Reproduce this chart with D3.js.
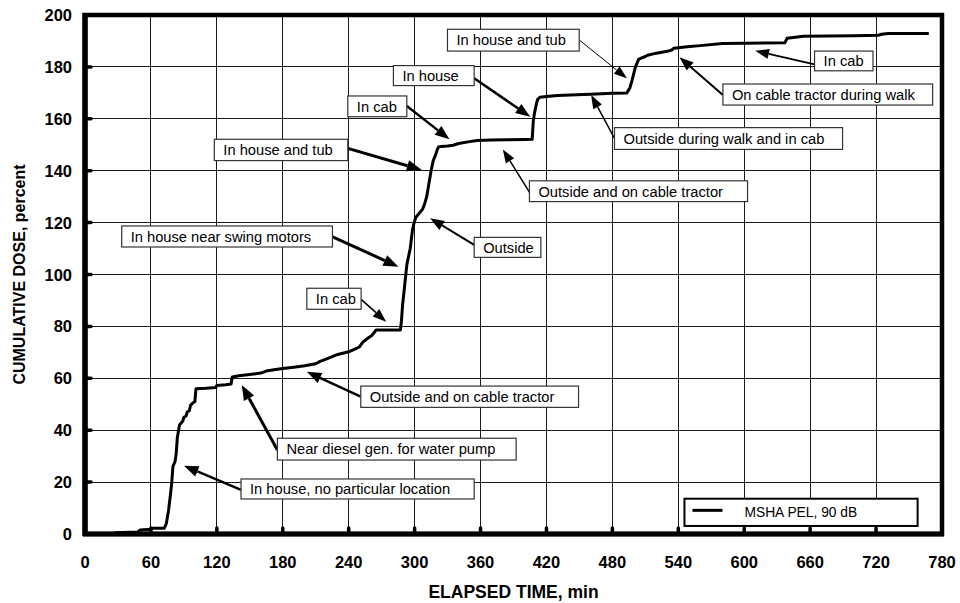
<!DOCTYPE html>
<html>
<head>
<meta charset="utf-8">
<script src="https://cdn.jsdelivr.net/npm/d3@7"></script>
<style>
  html, body { margin: 0; padding: 0; background: #fff; }
  svg { display: block; font-family: "Liberation Sans", Arial, sans-serif; }
</style>
</head>
<body>
<svg id="chart" width="960" height="603"></svg>
<script>
// ---------------- DATA ----------------
const xTicks = [0, 60, 120, 180, 240, 300, 360, 420, 480, 540, 600, 660, 720, 780];
const yTicks = [0, 20, 40, 60, 80, 100, 120, 140, 160, 180, 200];

const elapsedMin = [27, 48, 50, 60, 61, 72, 74, 76, 78, 79, 80, 82, 83, 84, 86, 89, 90, 92, 93, 95, 96, 98, 100, 101,
  110, 119, 120, 128, 133, 134, 140, 150, 160, 165, 172, 180, 190, 200, 210, 214, 220, 230, 240, 247, 250, 253, 257,
  261, 265, 287, 288, 289, 290, 292, 293, 295, 296, 298, 299, 301, 304, 307, 309, 311, 313, 315, 317, 319, 321, 322,
  330, 335, 340, 350, 357, 370, 384, 400, 407, 408, 409, 411, 412, 414, 420, 430, 460, 480, 493, 496, 498, 501, 504,
  510, 512, 520, 530, 534, 536, 548, 560, 580, 600, 637, 639, 654, 700, 722, 725, 731, 768];
const cumulativeDose = [0.5, 0.8, 1.5, 1.8, 2.2, 2.2, 4, 9, 16, 20, 26, 28, 31, 37, 42, 43.5, 45, 45.5, 47, 47.5, 49.5, 50.5, 51, 56,
  56.2, 56.5, 57.2, 57.5, 57.8, 60.5, 61, 61.5, 62, 62.8, 63.3, 63.8, 64.3, 64.8, 65.6, 66.5, 67.5, 69.2, 70.2, 71.5, 72.2, 74, 75.3,
  76.5, 78.6, 78.6, 82, 88, 92, 100, 104, 108, 110, 117, 119, 122, 123.5, 125, 127, 130, 135, 140, 144, 146, 148.5, 149.2,
  149.5, 149.8, 150.5, 151.2, 151.6, 151.8, 151.9, 152, 152.1, 159, 162, 166, 167.5, 168.3, 168.6, 169, 169.5, 169.8, 169.9, 172, 175, 180, 183,
  184, 184.5, 185.3, 186, 186.5, 187.2, 187.8, 188.2, 189, 189.1, 189.3, 191, 191.8, 192, 192.2, 192.6, 192.9, 192.9];

const seriesName = "MSHA PEL, 90 dB";
const xTitle = "ELAPSED TIME, min";
const yTitle = "CUMULATIVE DOSE, percent";

// Annotation labels with box extents and arrow (in data units: minutes, percent)
const annLabels = ["In house and tub", "In cab", "In house", "In house and tub", "In cab",
  "On cable tractor during walk", "Outside during walk and in cab", "Outside and on cable tractor",
  "Outside", "In house near swing motors", "In cab", "Outside and on cable tractor",
  "Near diesel gen. for water pump", "In house, no particular location"];
const annBoxT = [[117.7, 239.2], [239.2, 292.9], [280.7, 354.2], [329.9, 449.8], [664.0, 717.2],
  [580.6, 771.5], [481.9, 689.5], [404.5, 603.0], [354.2, 414.9], [33.4, 225.2], [201.9, 251.3],
  [251.0, 449.2], [175.1, 392.4], [142.0, 354.2]];
const annBoxV = [[152.1, 143.9], [168.8, 160.8], [180.5, 172.8], [194.5, 186.1], [186.1, 178.5],
  [173.4, 165.3], [156.6, 148.2], [136.1, 128.1], [114.3, 106.6], [118.7, 110.6], [94.7, 86.6],
  [57.0, 48.8], [36.9, 28.5], [21.2, 13.5]];
const annFrom = [[239.2, 148.6], [292.9, 164.9], [354.2, 175.6], [449.8, 190.4], [664.0, 181.0],
  [580.6, 169.2], [481.9, 152.5], [405.2, 131.3], [354.2, 111.4], [224.9, 114.6], [251.3, 90.4],
  [251.0, 52.9], [175.1, 32.4], [142.0, 17.0]];
const annTip = [[306.6, 140.3], [331.7, 152.1], [405.2, 160.8], [493.2, 175.6], [610.0, 186.2],
  [541.1, 183.7], [460.7, 169.2], [380.3, 148.2], [314.1, 121.7], [285.3, 103.0], [274.1, 81.8],
  [201.9, 62.5], [142.7, 57.4], [90.1, 26.3]];
const annWeight = [3, 2.5, 2.5, 1, 1.8, 2, 1.5, 1.5, 2, 3, 1.6, 2.5, 3, 2.5];

const legendT = [545.6, 757.8];
const legendV = [13.6, 3.1];

// ---------------- LAYOUT ----------------
const svg = d3.select("#chart");
const m = { left: 85, top: 15, width: 857, height: 519 };

const x = d3.scaleLinear().domain([0, 780]).range([m.left, m.left + m.width]);
const y = d3.scaleLinear().domain([0, 200]).range([m.top + m.height, m.top]);

// background
svg.append("rect").attr("width", 960).attr("height", 603).attr("fill", "#fff");

// grid
const grid = svg.append("g");
grid.selectAll("line.v").data(xTicks.slice(1, -1)).enter().append("line")
  .attr("x1", d => x(d)).attr("x2", d => x(d))
  .attr("y1", y(0)).attr("y2", y(200))
  .attr("stroke", "#1a1a1a").attr("stroke-width", 1).attr("shape-rendering", "crispEdges");
grid.selectAll("line.h").data(yTicks.slice(1, -1)).enter().append("line")
  .attr("x1", x(0)).attr("x2", x(780))
  .attr("y1", d => y(d)).attr("y2", d => y(d))
  .attr("stroke", "#1a1a1a").attr("stroke-width", 1).attr("shape-rendering", "crispEdges");

// inner tick bumps
const ticks = svg.append("g");
ticks.selectAll("line.xt").data(xTicks.slice(1, -1)).enter().append("line")
  .attr("x1", d => x(d)).attr("x2", d => x(d))
  .attr("y1", y(0)).attr("y2", y(0) - 6)
  .attr("stroke", "#000").attr("stroke-width", 3.5).attr("stroke-linecap", "round");
ticks.selectAll("line.yt").data(yTicks.slice(1, -1)).enter().append("line")
  .attr("x1", x(0)).attr("x2", x(0) + 6)
  .attr("y1", d => y(d)).attr("y2", d => y(d))
  .attr("stroke", "#000").attr("stroke-width", 3.5).attr("stroke-linecap", "round");

// data line
const pts = elapsedMin.map((t, i) => [t, cumulativeDose[i]]);
svg.append("path").datum(pts)
  .attr("fill", "none").attr("stroke", "#000").attr("stroke-width", 3)
  .attr("stroke-linejoin", "round")
  .attr("d", d3.line().x(d => x(d[0])).y(d => y(d[1])));

// frame
svg.append("rect")
  .attr("x", x(0)).attr("y", y(200)).attr("width", x(780) - x(0)).attr("height", y(0) - y(200))
  .attr("fill", "none").attr("stroke", "#000").attr("stroke-width", 4.5);
svg.append("line").attr("x1", x(0)).attr("x2", x(0)).attr("y1", y(200) - 2).attr("y2", y(0) + 2)
  .attr("stroke", "#000").attr("stroke-width", 5.5);
svg.append("line").attr("x1", x(0) - 2).attr("x2", x(780) + 2).attr("y1", y(0)).attr("y2", y(0))
  .attr("stroke", "#000").attr("stroke-width", 5);

// axis labels
svg.append("g").selectAll("text").data(xTicks).enter().append("text")
  .attr("x", d => x(d)).attr("y", y(0) + 34)
  .attr("text-anchor", "middle").attr("font-size", 16.5).attr("font-weight", "bold")
  .text(d => d);
svg.append("g").selectAll("text").data(yTicks).enter().append("text")
  .attr("x", x(0) - 13).attr("y", d => y(d) + 6)
  .attr("text-anchor", "end").attr("font-size", 16.5).attr("font-weight", "bold")
  .text(d => d);

svg.append("text").attr("x", (x(0) + x(780)) / 2).attr("y", 598)
  .attr("text-anchor", "middle").attr("font-size", 17.5).attr("font-weight", "bold").text(xTitle);
svg.append("text")
  .attr("transform", `translate(25,${(y(0) + y(200)) / 2}) rotate(-90)`)
  .attr("text-anchor", "middle").attr("font-size", 16).attr("font-weight", "bold").text(yTitle);

// annotations
const defs = svg.append("defs");
const ann = svg.append("g");
annLabels.forEach((label, i) => {
  const w = annWeight[i];
  const x1 = x(annFrom[i][0]), y1 = y(annFrom[i][1]);
  const x2 = x(annTip[i][0]), y2 = y(annTip[i][1]);
  const ang = Math.atan2(y2 - y1, x2 - x1);
  const hl = 12 + w, hw = 4 + w * 0.6;
  const bx = x2 - hl * Math.cos(ang), by = y2 - hl * Math.sin(ang);
  ann.append("line").attr("x1", x1).attr("y1", y1).attr("x2", bx).attr("y2", by)
    .attr("stroke", "#000").attr("stroke-width", w);
  const px = -Math.sin(ang), py = Math.cos(ang);
  ann.append("path")
    .attr("d", `M${x2},${y2}L${bx + px * hw},${by + py * hw}L${bx - px * hw},${by - py * hw}Z`)
    .attr("fill", "#000");
  const bxl = x(annBoxT[i][0]), bxr = x(annBoxT[i][1]);
  const byt = y(annBoxV[i][0]), byb = y(annBoxV[i][1]);
  ann.append("rect").attr("x", bxl).attr("y", byt).attr("width", bxr - bxl).attr("height", byb - byt)
    .attr("fill", "#fff").attr("stroke", "#333").attr("stroke-width", 1.2);
  ann.append("text").attr("x", bxl + 9).attr("y", (byt + byb) / 2 + 5.3)
    .attr("font-size", 14.7).text(label);
});

// legend
const lx0 = x(legendT[0]), lx1 = x(legendT[1]);
const ly0 = y(legendV[0]), ly1 = y(legendV[1]);
svg.append("rect").attr("x", lx0).attr("y", ly0).attr("width", lx1 - lx0).attr("height", ly1 - ly0)
  .attr("fill", "#fff").attr("stroke", "#000").attr("stroke-width", 2);
svg.append("line").attr("x1", lx0 + 8).attr("x2", lx0 + 38)
  .attr("y1", (ly0 + ly1) / 2 - 2).attr("y2", (ly0 + ly1) / 2 - 2)
  .attr("stroke", "#000").attr("stroke-width", 3);
svg.append("text").attr("x", lx0 + 60).attr("y", (ly0 + ly1) / 2 + 4.5)
  .attr("font-size", 13.8).text(seriesName);
</script>
</body>
</html>
